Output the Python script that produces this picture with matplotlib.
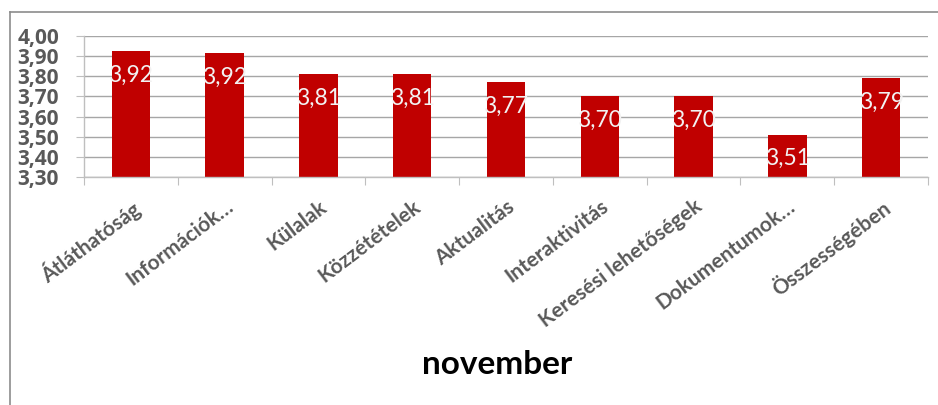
import matplotlib
matplotlib.use("Agg")
import matplotlib.pyplot as plt
from matplotlib.lines import Line2D

plt.rcParams['font.family'] = ['Lato', 'DejaVu Sans']

categories = ['Átláthatóság', 'Információk…', 'Külalak', 'Közzétételek',
              'Aktualitás', 'Interaktivitás', 'Keresési lehetőségek',
              'Dokumentumok…', 'Összességében']
values = [3.924, 3.916, 3.81, 3.81, 3.77, 3.70, 3.70, 3.51, 3.79]
yticks = [3.30, 3.40, 3.50, 3.60, 3.70, 3.80, 3.90, 4.00]
title = 'november'

bar_color = '#C00000'
grey_text = '#595959'
grid_color = '#A6A6A6'


def hu(v):
    return f'{v:.2f}'.replace('.', ',')


fig = plt.figure(figsize=(9.38, 4.05), dpi=100)
ax = fig.add_axes([0.0896, 0.563, 0.8997, 0.348])

x = list(range(len(categories)))
ax.bar(x, values, width=0.41, color=bar_color, zorder=2)

ax.set_ylim(yticks[0], yticks[-1])
ax.set_xlim(-0.5, len(categories) - 0.5)
ax.set_yticks(yticks)
ax.set_yticklabels([hu(t) for t in yticks], fontweight='bold',
                   fontsize=15, color=grey_text,
                   family=['Open Sans', 'DejaVu Sans'])
ax.grid(axis='y', color=grid_color, linewidth=1.0, zorder=0)

for s in ['top', 'right']:
    ax.spines[s].set_visible(False)
for s in ['left', 'bottom']:
    ax.spines[s].set_color('#BFBFBF')
    ax.spines[s].set_linewidth(1.0)

# ticks between categories on x, outward ticks on y
ax.set_xticks([i - 0.5 for i in range(len(categories) + 1)], minor=False)
ax.set_xticklabels([])
ax.set_xticks(x, minor=True)
ax.set_xticklabels(categories, minor=True, rotation=37, ha='right',
                   rotation_mode='anchor', fontsize=15, fontweight='bold',
                   color=grey_text)
ax.tick_params(axis='x', which='major', length=6, color='#BFBFBF')
ax.tick_params(axis='x', which='minor', length=0, pad=14)
ax.tick_params(axis='y', length=6, color='#BFBFBF', pad=12)

for xi, v in zip(x, values):
    ax.annotate(hu(v), (xi, v), xytext=(0, -24),
                textcoords='offset pixels', ha='center', va='center',
                fontsize=16.5, color='#F2F2F2', zorder=3)

fig.text(497 / 938, 1 - 365 / 405, title, ha='center', va='center',
         fontsize=24, fontweight='bold', color='black')

# chart frame
fig.add_artist(Line2D([10 / 938, 10 / 938], [0, 1 - 12 / 405],
                      transform=fig.transFigure, color='#8C8C8C', linewidth=1.2))
fig.add_artist(Line2D([10 / 938, 1], [1 - 12 / 405, 1 - 12 / 405],
                      transform=fig.transFigure, color='#8C8C8C', linewidth=1.2))

fig.savefig('out.png', dpi=100)
